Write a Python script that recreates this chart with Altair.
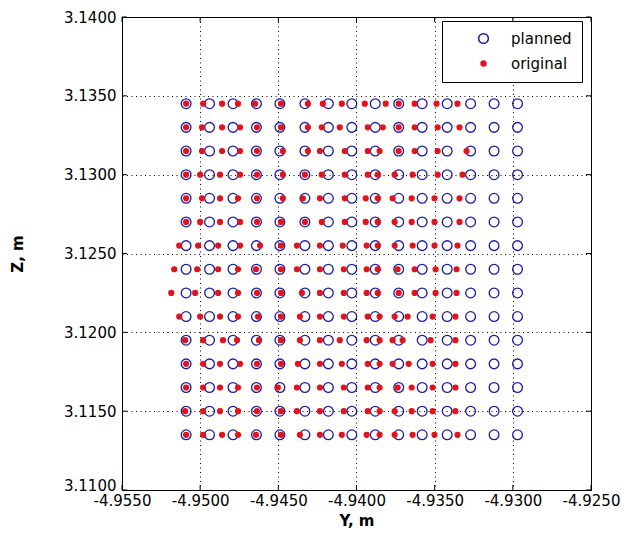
import altair as alt
import pandas as pd

# Planned grid (metres)
planned_x = [-4.9509, -4.9494, -4.9479, -4.9464, -4.9449, -4.9433, -4.9418, -4.9403,
             -4.9388, -4.9373, -4.9358, -4.9342, -4.9327, -4.9312, -4.9297]
row_z = [3.1345, 3.1330, 3.1315, 3.1300, 3.1285, 3.1270, 3.1255, 3.1240,
         3.1225, 3.1210, 3.1195, 3.1180, 3.1165, 3.1150, 3.1135]

# Original points, one list of Y values per row (same Z as row_z)
orig_r01 = [-4.95090, -4.94981, -4.94860, -4.94758, -4.94649, -4.94483, -4.94311, -4.94215, -4.94094, -4.93947, -4.93813, -4.93730, -4.93628, -4.93488, -4.93354]
orig_r02 = [-4.95090, -4.94988, -4.94860, -4.94745, -4.94637, -4.94483, -4.94311, -4.94222, -4.94107, -4.93928, -4.93832, -4.93730, -4.93628, -4.93481, -4.93341]
orig_r03 = [-4.95090, -4.94988, -4.94860, -4.94745, -4.94637, -4.94471, -4.94311, -4.94234, -4.94075, -4.93928, -4.93852, -4.93730, -4.93628, -4.93481, -4.93296]
orig_r04 = [-4.95090, -4.95000, -4.94873, -4.94745, -4.94637, -4.94471, -4.94330, -4.94222, -4.94075, -4.93928, -4.93864, -4.93756, -4.93641, -4.93481, -4.93322]
orig_r05 = [-4.95090, -4.94988, -4.94873, -4.94758, -4.94637, -4.94471, -4.94343, -4.94234, -4.94075, -4.93941, -4.93864, -4.93769, -4.93647, -4.93501, -4.93341]
orig_r06 = [-4.95090, -4.95000, -4.94873, -4.94745, -4.94637, -4.94483, -4.94330, -4.94222, -4.94075, -4.93941, -4.93864, -4.93756, -4.93647, -4.93501, -4.93341]
orig_r07 = [-4.95134, -4.95013, -4.94885, -4.94745, -4.94617, -4.94483, -4.94381, -4.94234, -4.94088, -4.93935, -4.93864, -4.93756, -4.93641, -4.93501, -4.93354]
orig_r08 = [-4.95166, -4.95019, -4.94885, -4.94758, -4.94643, -4.94483, -4.94381, -4.94234, -4.94081, -4.93935, -4.93864, -4.93737, -4.93628, -4.93494, -4.93360]
orig_r09 = [-4.95185, -4.95032, -4.94885, -4.94758, -4.94637, -4.94483, -4.94349, -4.94234, -4.94081, -4.93935, -4.93864, -4.93730, -4.93628, -4.93494, -4.93360]
orig_r10 = [-4.95134, -4.95000, -4.94873, -4.94758, -4.94630, -4.94483, -4.94362, -4.94234, -4.94081, -4.93928, -4.93852, -4.93756, -4.93673, -4.93513, -4.93367]
orig_r11 = [-4.95096, -4.94981, -4.94854, -4.94764, -4.94624, -4.94483, -4.94362, -4.94234, -4.94107, -4.93935, -4.93852, -4.93769, -4.93705, -4.93526, -4.93367]
orig_r12 = [-4.95090, -4.94981, -4.94873, -4.94745, -4.94637, -4.94483, -4.94375, -4.94234, -4.94094, -4.93928, -4.93852, -4.93769, -4.93666, -4.93513, -4.93367]
orig_r13 = [-4.95090, -4.94981, -4.94873, -4.94758, -4.94637, -4.94503, -4.94381, -4.94234, -4.94081, -4.93928, -4.93852, -4.93737, -4.93647, -4.93513, -4.93367]
orig_r14 = [-4.95096, -4.94981, -4.94873, -4.94758, -4.94637, -4.94483, -4.94381, -4.94234, -4.94081, -4.93928, -4.93852, -4.93756, -4.93647, -4.93513, -4.93367]
orig_r15 = [-4.95090, -4.94981, -4.94860, -4.94758, -4.94643, -4.94483, -4.94362, -4.94234, -4.94094, -4.93935, -4.93852, -4.93756, -4.93641, -4.93501, -4.93354]
orig_rows = [orig_r01, orig_r02, orig_r03, orig_r04, orig_r05, orig_r06, orig_r07, orig_r08,
             orig_r09, orig_r10, orig_r11, orig_r12, orig_r13, orig_r14, orig_r15]

x_ticks = [-4.955, -4.950, -4.945, -4.940, -4.935, -4.930, -4.925]
y_ticks = [3.110, 3.115, 3.120, 3.125, 3.130, 3.135, 3.140]
series_names = ["planned", "original"]

recs = []
for z in row_z:
    for y in planned_x:
        recs.append({"Y": y, "Z": z, "series": "planned"})
for z, row in zip(row_z, orig_rows):
    for y in row:
        recs.append({"Y": y, "Z": z, "series": "original"})
df = pd.DataFrame(recs)

W, H = 469, 473
FONT = "DejaVu Sans"
BLUE = "#1c1ca0"
RED = "#e0141e"

label_expr = "(datum.value < 0 ? '-' : '') + format(abs(datum.value), '.4f')"

x_axis = alt.Axis(values=x_ticks, labelExpr=label_expr, title="Y, m", grid=True,
                  ticks=False, labelPadding=3, titlePadding=5,
                  labelOverlap=False, labelBound=False, labelFlush=False)
y_axis = alt.Axis(values=y_ticks, labelExpr=label_expr, title="Z, m", grid=True,
                  ticks=False, labelPadding=6, titlePadding=38,
                  labelOverlap=False, labelBound=False, labelFlush=False,
                  labelBaseline={"condition": {"test": "datum.value < 3.1101", "value": "alphabetic"},
                                 "value": "middle"})
x_scale = alt.Scale(domain=[-4.955, -4.925], nice=False, zero=False)
y_scale = alt.Scale(domain=[3.110, 3.140], nice=False, zero=False)

legend = alt.Legend(title=None, orient="none", legendX=320, legendY=4,
                    strokeColor="black", fillColor="white", padding=10,
                    labelFont=FONT, labelFontSize=15, labelColor="black",
                    rowPadding=9, symbolOffset=24, labelOffset=20)

points = alt.Chart(df).mark_point(strokeWidth=1.3, opacity=1).encode(
    x=alt.X("Y:Q", scale=x_scale, axis=x_axis),
    y=alt.Y("Z:Q", scale=y_scale, axis=y_axis),
    stroke=alt.Stroke("series:N", scale=alt.Scale(domain=series_names, range=[BLUE, RED]), legend=legend),
    fill=alt.Fill("series:N", scale=alt.Scale(domain=series_names, range=["rgba(0,0,0,0)", RED]), legend=legend),
    size=alt.Size("series:N", scale=alt.Scale(domain=series_names, range=[95, 24]), legend=legend),
    order=alt.Order("ord:Q"),
).transform_calculate(ord="datum.series == 'planned' ? 0 : 1")

xt = pd.DataFrame({"v": x_ticks})
yt = pd.DataFrame({"v": y_ticks})
tick_x = alt.X("v:Q", scale=x_scale, axis=x_axis)
tick_y = alt.Y("v:Q", scale=y_scale, axis=y_axis)

bottom_ticks = alt.Chart(xt).mark_rule(color="black").encode(x=tick_x, y=alt.value(H), y2=alt.value(H - 5))
top_ticks = alt.Chart(xt).mark_rule(color="black").encode(x=tick_x, y=alt.value(0), y2=alt.value(5))
left_ticks = alt.Chart(yt).mark_rule(color="black").encode(y=tick_y, x=alt.value(0), x2=alt.value(5))
right_ticks = alt.Chart(yt).mark_rule(color="black").encode(y=tick_y, x=alt.value(W), x2=alt.value(W - 5))

chart = alt.layer(points, bottom_ticks, top_ticks, left_ticks, right_ticks).properties(
    width=W, height=H,
    autosize="none",
    padding={"left": 122, "top": 17, "right": 36, "bottom": 45},
    background="white",
).configure_view(
    stroke="black", strokeWidth=1
).configure_axis(
    domainColor="black", domainWidth=1,
    gridColor="black", gridDash=[1, 3.5], gridWidth=1, gridOpacity=1,
    labelFont=FONT, labelFontSize=15, labelColor="black",
    titleFont=FONT, titleFontSize=15, titleColor="black", titleFontWeight="bold",
)

chart.save("out.html", embed_options={"renderer": "svg", "actions": False})
